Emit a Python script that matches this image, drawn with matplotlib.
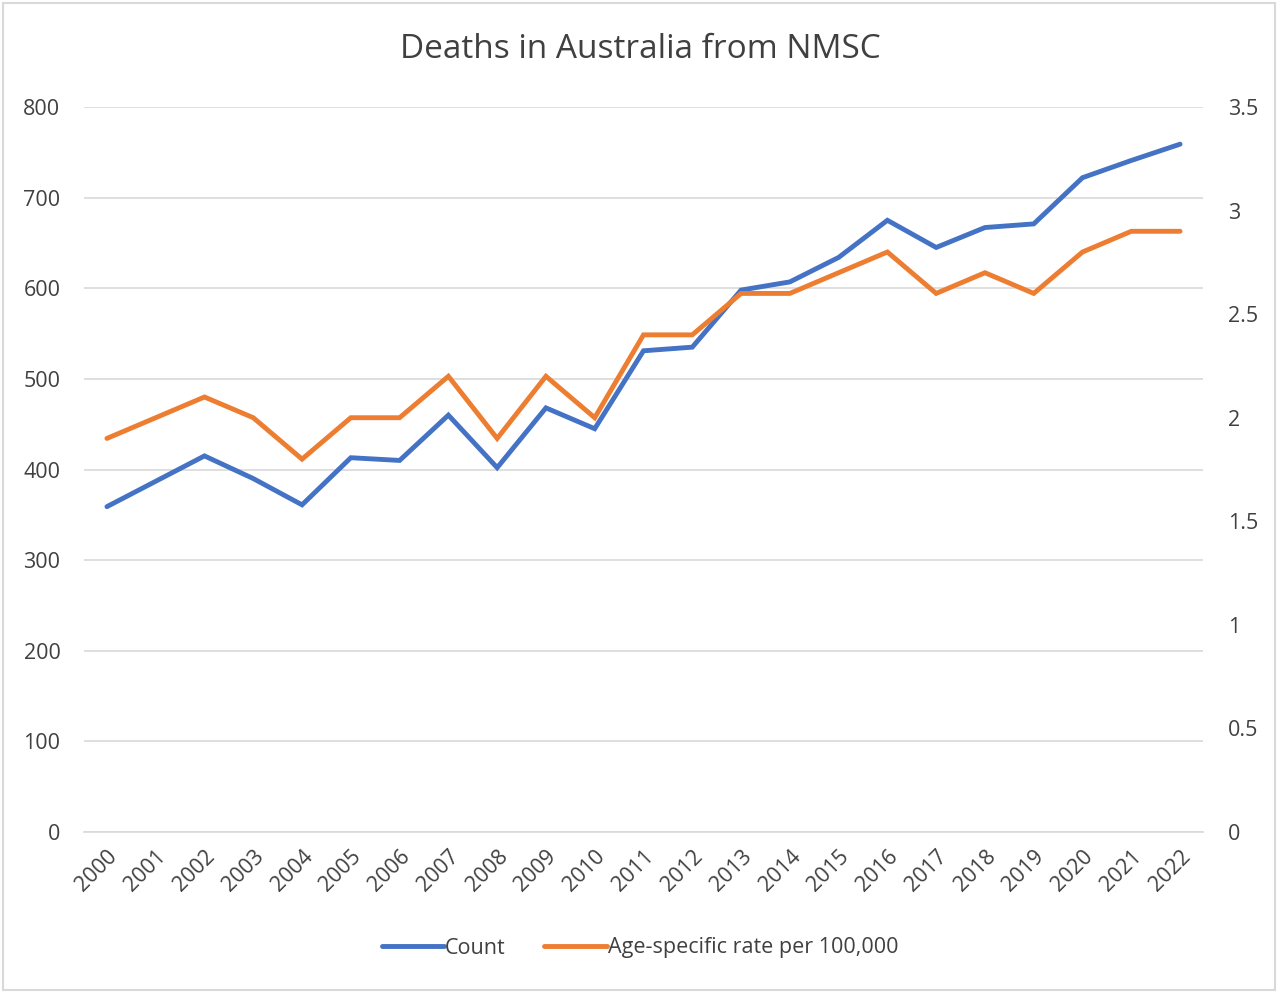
import matplotlib.pyplot as plt
from matplotlib.patches import Rectangle

years = [str(y) for y in range(2000, 2023)]
count = [359, 387, 415, 390, 361, 413, 410, 460, 402, 468, 445, 531, 535,
         598, 607, 634, 675, 645, 667, 671, 722, 741, 759]
rate = [1.9, 2.0, 2.1, 2.0, 1.8, 2.0, 2.0, 2.2, 1.9, 2.2, 2.0, 2.4, 2.4,
        2.6, 2.6, 2.7, 2.8, 2.6, 2.7, 2.6, 2.8, 2.9, 2.9]

left_ticks = [0, 100, 200, 300, 400, 500, 600, 700, 800]
right_ticks = [0, 0.5, 1, 1.5, 2, 2.5, 3, 3.5]
right_labels = ['0', '0.5', '1', '1.5', '2', '2.5', '3', '3.5']

blue = '#4472C4'
orange = '#ED7D31'
txt = '#404040'
grid = '#D9D9D9'

plt.rcParams['font.family'] = ['Open Sans', 'DejaVu Sans']

fig = plt.figure(figsize=(12.8, 9.93), dpi=100)
ax = fig.add_axes([84/1280, 1 - 832/993, (1203-84)/1280, (832-107)/993])
ax2 = ax.twinx()

x = list(range(len(years)))
l1, = ax.plot(x, count, color=blue, lw=3.5, solid_capstyle='round', solid_joinstyle='miter', label='Count')
l2, = ax2.plot(x, rate, color=orange, lw=3.5, solid_capstyle='round', solid_joinstyle='miter',
               label='Age-specific rate per 100,000')

ax.set_xlim(-0.47, len(years) - 0.53)
ax.set_ylim(0, 800)
ax2.set_ylim(0, 3.5)
ax.set_yticks(left_ticks)
ax.set_yticklabels([str(t) for t in left_ticks])
ax2.set_yticks(right_ticks)
ax2.set_yticklabels(right_labels)
ax.yaxis.grid(True, color=grid, lw=1.2)
ax.set_axisbelow(True)
ax.set_xticks(x)
ax.set_xticklabels(years, rotation=45, ha='right', va='top', rotation_mode='anchor')

for a in (ax, ax2):
    for s in a.spines.values():
        s.set_visible(False)
    a.tick_params(length=0, colors=txt, labelsize=15.5)
ax.spines['bottom'].set_visible(True)
ax.spines['bottom'].set_color(grid)
ax.spines['bottom'].set_linewidth(1.2)
ax.tick_params(axis='y', pad=17)
ax2.tick_params(axis='y', pad=18)
ax.tick_params(axis='x', pad=10)

fig.text(0.5, 1 - 50/993, 'Deaths in Australia from NMSC', ha='center', va='center',
         fontsize=24, color=txt)

fig.legend(handles=[l1, l2], loc='center', bbox_to_anchor=(0.5, 1 - 948/993), ncol=2,
           frameon=False, fontsize=15.5, labelcolor=txt, handlelength=2.9,
           handletextpad=0.05, columnspacing=1.8)

fig.patches.append(Rectangle((3/1280, 3/993), 1272/1280, 987/993, transform=fig.transFigure,
                             fill=False, edgecolor='#D9D9D9', lw=1.5))

fig.savefig('out.png', dpi=100)
